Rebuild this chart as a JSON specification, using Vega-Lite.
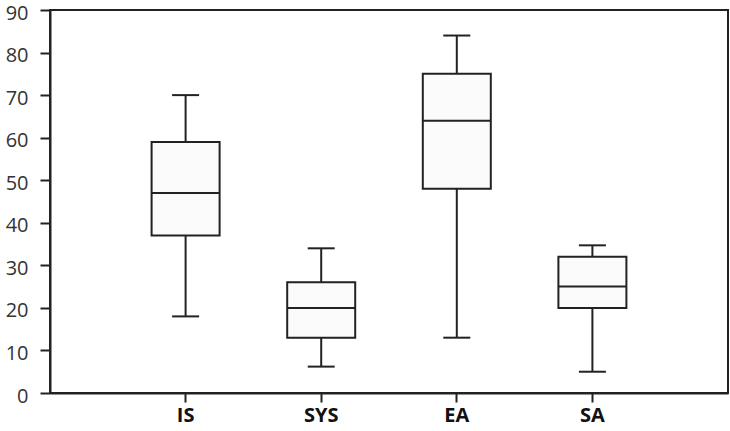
{
  "$schema": "https://vega.github.io/schema/vega-lite/v6.json",
  "autosize": "none",
  "padding": {"left": 50, "top": 10, "right": 2, "bottom": 38},
  "width": 678,
  "height": 383,
  "background": "white",
  "config": {
    "view": {"stroke": "#222", "strokeWidth": 2},
    "axis": {"grid": false, "domainColor": "#222", "domainWidth": 2, "tickColor": "#222", "tickWidth": 2, "labelFont": "Open Sans", "labelColor": "#333"}
  },
  "data": {
    "values": [
      {"group": "IS", "min": 18, "q1": 37, "median": 47, "q3": 59, "max": 70},
      {"group": "SYS", "min": 6.2, "q1": 13, "median": 20, "q3": 26, "max": 34},
      {"group": "EA", "min": 13, "q1": 48, "median": 64, "q3": 75, "max": 84},
      {"group": "SA", "min": 5, "q1": 20, "median": 25, "q3": 32, "max": 34.7}
    ]
  },
  "encoding": {
    "x": {
      "field": "group", "type": "nominal", "sort": null,
      "scale": {"type": "band", "paddingInner": 0, "paddingOuter": 0.5},
      "axis": {"title": null, "labelAngle": 0, "labelFontSize": 20, "labelFontWeight": "bold", "labelColor": "#111", "tickSize": 9, "labelPadding": 3}
    }
  },
  "layer": [
    {
      "mark": {"type": "rule", "color": "#222", "strokeWidth": 2},
      "encoding": {
        "y": {"field": "min", "type": "quantitative", "scale": {"domain": [0, 90], "nice": false}, "axis": {"title": null, "values": [0,10,20,30,40,50,60,70,80,90], "labelFontSize": 20, "tickSize": 10, "labelPadding": 12, "labelOffset": 3}},
        "y2": {"field": "max"}
      }
    },
    {
      "mark": {"type": "bar", "size": 68, "fill": "#fbfbfb", "stroke": "#222", "strokeWidth": 2},
      "encoding": {
        "y": {"field": "q1", "type": "quantitative"},
        "y2": {"field": "q3"}
      }
    },
    {
      "mark": {"type": "tick", "size": 68, "thickness": 2, "color": "#222", "opacity": 1},
      "encoding": {"y": {"field": "median", "type": "quantitative"}}
    },
    {
      "mark": {"type": "tick", "size": 27, "thickness": 2, "color": "#222", "opacity": 1},
      "encoding": {"y": {"field": "min", "type": "quantitative"}}
    },
    {
      "mark": {"type": "tick", "size": 27, "thickness": 2, "color": "#222", "opacity": 1},
      "encoding": {"y": {"field": "max", "type": "quantitative"}}
    }
  ]
}
